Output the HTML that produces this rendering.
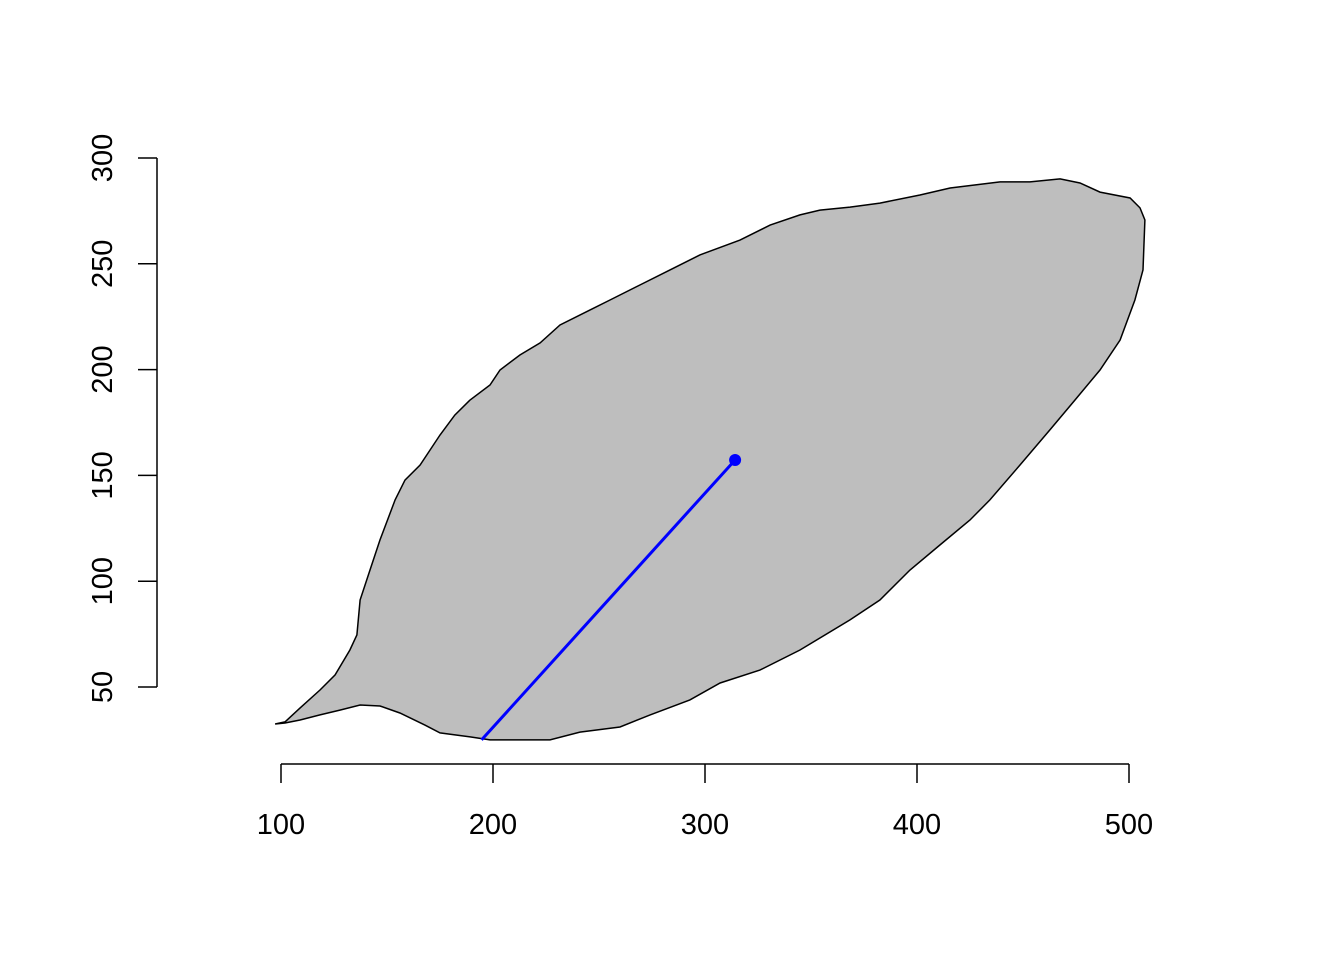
<!DOCTYPE html>
<html><head><meta charset="utf-8"><style>
html,body{margin:0;padding:0;background:#fff;}
svg{display:block;font-family:"Liberation Sans",Arial,sans-serif;}
</style></head><body>
<svg id="chart" width="1344" height="960" viewBox="0 0 1344 960">
<g id="plot"></g>
<g id="xaxis"></g>
<g id="yaxis"></g>
</svg>
<script>
const shapeX=[97.2,101.9,109,118.4,125.5,132.5,135.8,137.3,142,146.7,153.8,158.5,165.6,175,182,189,198.6,203.3,212.7,222.2,231.6,245.8,255.2,269.3,283.5,297.6,316.5,330.7,344.8,354.2,368.4,382.5,401.4,415.6,439.2,453.3,467.5,476.9,486.3,500.5,505.2,507.5,506.6,502.8,495.8,486.3,474.5,462.7,448.6,434.4,425,410.8,396.7,382.5,368.4,344.8,325.9,307.1,292.9,274.1,259.9,241,226.9,212.7,198.6,189.2,175,167.9,156.1,146.7,137.3,127.8,118.4,109,101.9];
const shapeY=[32.5,33.5,40.1,48.6,55.7,67.5,74.6,91.1,105.3,119.5,138.4,147.8,154.9,169.1,178.5,185.5,192.7,199.8,206.9,212.6,221.1,228.2,232.9,240,247.1,254.2,261.2,268.3,273.1,275.4,276.8,278.7,282.5,285.8,288.7,288.7,290.1,288.2,283.9,281.1,276.4,270.7,247.1,232.9,214,199.8,185.6,171.5,154.9,138.4,128.9,117.1,105.3,91.1,81.7,67.5,58,51.9,43.9,36.8,31.1,28.7,25,25,25,26.4,28.3,32,37.7,41,41.5,39.1,36.8,34.4,33];
const segX=[194.6,314.2];
const segY=[25,157.3];
const xTicks=[100,200,300,400,500];
const yTicks=[50,100,150,200,250,300];

const NS="http://www.w3.org/2000/svg";
function sx(v){return 281+(v-100)*2.12;}
function sy(v){return 687-(v-50)*2.116;}
function mk(parent,tag,attrs){const e=document.createElementNS(NS,tag);for(const k in attrs)e.setAttribute(k,attrs[k]);parent.appendChild(e);return e;}
const plot=document.getElementById('plot');
const pts=shapeX.map((x,i)=>sx(x).toFixed(1)+','+sy(shapeY[i]).toFixed(1)).join(' ');
const poly=mk(plot,'polygon',{points:pts,fill:'#bebebe',stroke:'#000','stroke-width':1.5});


const ln=mk(plot,'line',{x1:sx(segX[0]),y1:sy(segY[0]),x2:sx(segX[1]),y2:sy(segY[1]),stroke:'#0000ff','stroke-width':3});


const pt=mk(plot,'circle',{cx:sx(segX[1]),cy:sy(segY[1]),r:6,fill:'#0000ff'});



const xa=document.getElementById('xaxis');
mk(xa,'line',{x1:sx(xTicks[0]),x2:sx(xTicks[xTicks.length-1]),y1:764,y2:764,stroke:'#000','stroke-width':1.5});
xTicks.forEach(t=>{
 mk(xa,'line',{x1:sx(t),x2:sx(t),y1:764,y2:783,stroke:'#000','stroke-width':1.5});
 const tx=mk(xa,'text',{x:sx(t),y:834,'text-anchor':'middle','font-size':29});
 tx.textContent=t;
 
 
});
const ya=document.getElementById('yaxis');
mk(ya,'line',{x1:157,x2:157,y1:sy(yTicks[0]),y2:sy(yTicks[yTicks.length-1]),stroke:'#000','stroke-width':1.5});
yTicks.forEach(t=>{
 mk(ya,'line',{x1:138,x2:157,y1:sy(t),y2:sy(t),stroke:'#000','stroke-width':1.5});
 const tx=mk(ya,'text',{x:0,y:0,'text-anchor':'middle','font-size':29,transform:'translate(112,'+sy(t)+') rotate(-90)'});
 tx.textContent=t;
 
 
});
</script>
</body></html>
